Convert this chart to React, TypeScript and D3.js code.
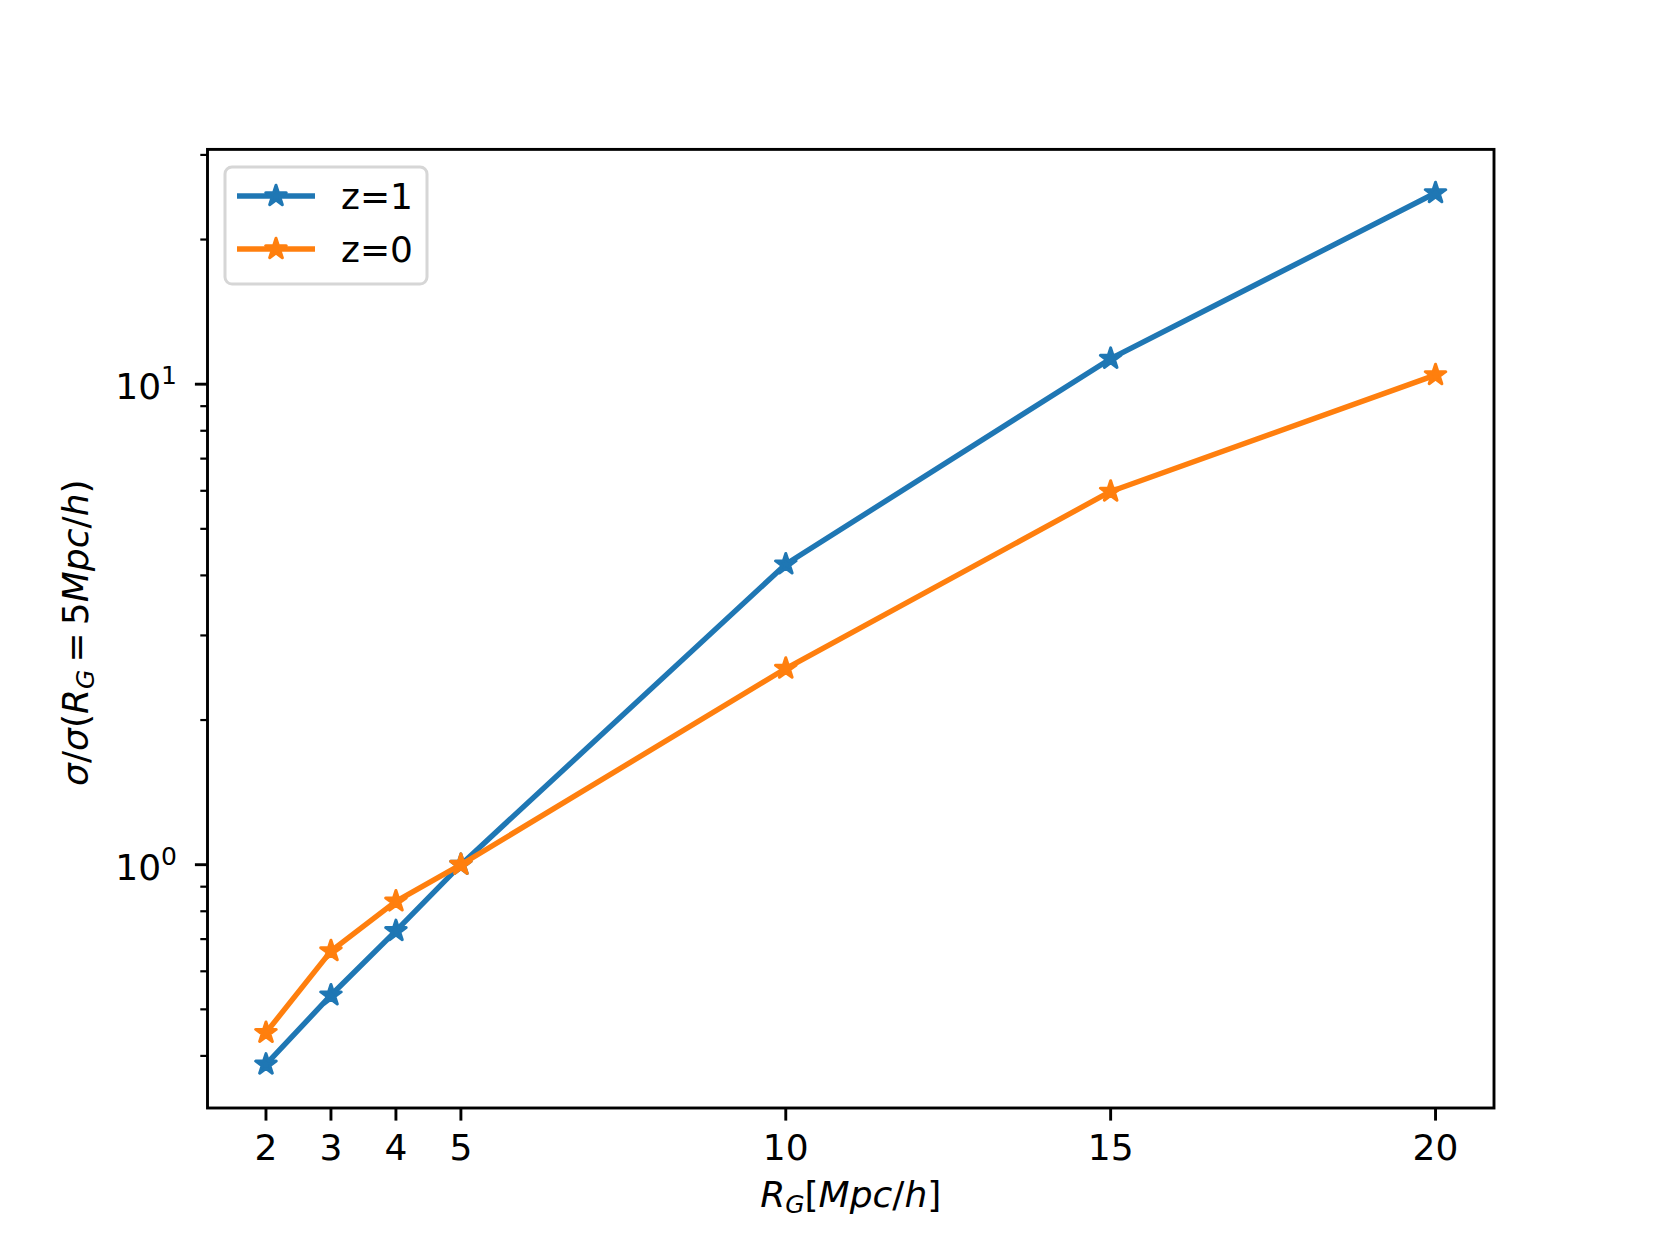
import React from "react";
import * as d3 from "d3";

const radii = [2, 3, 4, 5, 10, 15, 20];
const sigmaZ1 = [0.384, 0.535, 0.728, 1.0, 4.22, 11.3, 25.0];
const sigmaZ0 = [0.447, 0.661, 0.839, 1.0, 2.56, 5.98, 10.45];
const seriesNames = ["z=1", "z=0"];
const seriesColors = ["#1f77b4", "#ff7f0e"];
const xTicks = [2, 3, 4, 5, 10, 15, 20];
const yMajorTicks = [1, 10];
const yMajorExp = ["0", "1"];

const W = 1660, H = 1245;
const L = 207.5, R = 1494, T = 149.4, B = 1108;
const FONT = "DejaVu Sans";

function starPath(r: number) {
  const inner = r * 0.381966;
  const pts: string[] = [];
  for (let i = 0; i < 10; i++) {
    const rad = i % 2 === 0 ? r : inner;
    const a = (Math.PI / 5) * i - Math.PI / 2;
    pts.push(`${(rad * Math.cos(a)).toFixed(2)},${(rad * Math.sin(a)).toFixed(2)}`);
  }
  return "M" + pts.join("L") + "Z";
}

export default function App() {
  const xMin = d3.min(radii)!, xMax = d3.max(radii)!;
  const xPad = (xMax - xMin) * 0.05;
  const x = d3.scaleLinear().domain([xMin - xPad, xMax + xPad]).range([L, R]);
  const allY = [...sigmaZ1, ...sigmaZ0];
  const lmin = Math.log10(d3.min(allY)!), lmax = Math.log10(d3.max(allY)!);
  const lp = (lmax - lmin) * 0.05;
  const y = d3.scaleLog().domain([Math.pow(10, lmin - lp), Math.pow(10, lmax + lp)]).range([B, T]);
  const [d0, d1] = y.domain();
  const minor: number[] = [];
  for (let e = -2; e <= 2; e++) {
    for (let m = 2; m <= 9; m++) {
      const v = m * Math.pow(10, e);
      if (v >= d0 && v <= d1) minor.push(v);
    }
  }
  const line = d3.line<number>().x((_, i) => x(radii[i])).y((v) => y(v));
  const series = [sigmaZ1, sigmaZ0];
  const star = starPath(10.8);

  return (
    <svg width={W} height={H} style={{ position: "absolute", left: 0, top: 0, background: "#fff" }} fontFamily={FONT}>
      <rect x={0} y={0} width={W} height={H} fill="#fff" />
      <defs>
        <clipPath id="plotclip">
          <rect x={L} y={T} width={R - L} height={B - T} />
        </clipPath>
      </defs>
      {/* series */}
      <g clipPath="url(#plotclip)">
        {series.map((s, si) => (
          <g key={si}>
            <path d={line(s) || ""} fill="none" stroke={seriesColors[si]} strokeWidth={5.4} strokeLinecap="square" strokeLinejoin="round" />
            {s.map((v, i) => (
              <path key={i} d={star} transform={`translate(${x(radii[i])},${y(v)})`} fill={seriesColors[si]} stroke={seriesColors[si]} strokeWidth={3} strokeLinejoin="round" />
            ))}
          </g>
        ))}
      </g>
      {/* axes frame */}
      <rect x={L} y={T} width={R - L} height={B - T} fill="none" stroke="#000" strokeWidth={2.9} />
      {/* x ticks */}
      {xTicks.map((t) => (
        <g key={t}>
          <line x1={x(t)} x2={x(t)} y1={B} y2={B + 12.6} stroke="#000" strokeWidth={2.9} />
          <text x={x(t)} y={1160} fontSize={36} textAnchor="middle" fill="#000">{t}</text>
        </g>
      ))}
      {/* y minor ticks */}
      {minor.map((t) => (
        <line key={t} x1={L} x2={L - 7.2} y1={y(t)} y2={y(t)} stroke="#000" strokeWidth={2.2} />
      ))}
      {/* y major ticks */}
      {yMajorTicks.map((t, i) => (
        <g key={t}>
          <line x1={L} x2={L - 12.6} y1={y(t)} y2={y(t)} stroke="#000" strokeWidth={2.9} />
          <text x={177} y={y(t) + 15} fontSize={36} textAnchor="end" fill="#000">
            10<tspan fontSize={25} dy={-15}>{yMajorExp[i]}</tspan>
          </text>
        </g>
      ))}
      {/* x label */}
      <text x={(L + R) / 2} y={1207} fontSize={36} textAnchor="middle" fill="#000">
        <tspan fontStyle="italic">R</tspan>
        <tspan fontStyle="italic" fontSize={25} dy={6}>G</tspan>
        <tspan dy={-6}>[</tspan>
        <tspan fontStyle="italic">Mpc</tspan>
        <tspan>/</tspan>
        <tspan fontStyle="italic">h</tspan>
        <tspan>]</tspan>
      </text>
      {/* y label */}
      <text transform={`translate(88,${(T + B) / 2 + 4}) rotate(-90)`} fontSize={36} textAnchor="middle" fill="#000">
        <tspan fontStyle="italic">σ</tspan>
        <tspan>/</tspan>
        <tspan fontStyle="italic">σ</tspan>
        <tspan>(</tspan>
        <tspan fontStyle="italic">R</tspan>
        <tspan fontStyle="italic" fontSize={25} dy={6}>G</tspan>
        <tspan dy={-6}>{"\u2009=\u20095"}</tspan>
        <tspan fontStyle="italic">Mpc</tspan>
        <tspan>/</tspan>
        <tspan fontStyle="italic">h</tspan>
        <tspan>)</tspan>
      </text>
      {/* legend */}
      <g>
        <rect x={225} y={167} width={202} height={117} rx={7} ry={7} fill="#fff" fillOpacity={0.8} stroke="#d6d6d6" strokeWidth={3} />
        {seriesNames.map((n, i) => (
          <g key={n}>
            <line x1={237} x2={315} y1={196 + i * 53} y2={196 + i * 53} stroke={seriesColors[i]} strokeWidth={5.4} />
            <path d={star} transform={`translate(276,${196 + i * 53})`} fill={seriesColors[i]} stroke={seriesColors[i]} strokeWidth={3} strokeLinejoin="round" />
            <text x={341} y={209 + i * 53} fontSize={36} fill="#000">{n}</text>
          </g>
        ))}
      </g>
    </svg>
  );
}
